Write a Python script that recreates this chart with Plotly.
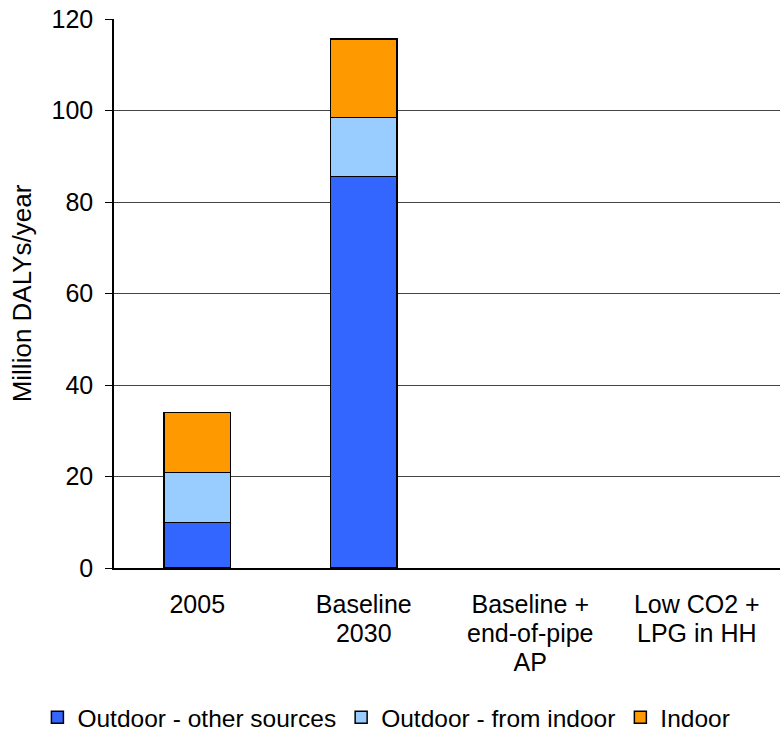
import plotly.graph_objects as go

# Health impact (million DALYs per year) by scenario
categories = ["2005", "Baseline<br>2030", "Baseline +<br>end-of-pipe<br>AP", "Low CO2 +<br>LPG in HH"]
outdoor_other = [10.0, 85.6, None, None]
outdoor_from_indoor = [10.9, 12.9, None, None]
indoor = [13.1, 17.1, None, None]

series = [
    ("Outdoor - other sources", outdoor_other, "#3366FF"),
    ("Outdoor - from indoor", outdoor_from_indoor, "#99CCFF"),
    ("Indoor", indoor, "#FF9900"),
]

FONT = "Liberation Sans, Arial, sans-serif"

# category labels drawn a little larger than their line spacing
tick_labels = [
    "<br>".join(f'<span style="font-size:25px">{part}</span>' for part in c.split("<br>"))
    for c in categories
]

fig = go.Figure()
for name, vals, color in series:
    fig.add_trace(go.Bar(
        x=categories, y=vals, name=name,
        marker=dict(color=color, line=dict(color="black", width=1.5)),
    ))

fig.update_layout(
    barmode="stack",
    bargap=0.6,
    width=780, height=741,
    margin=dict(l=114, r=0, t=19, b=173),
    plot_bgcolor="white", paper_bgcolor="white",
    font=dict(family=FONT, size=24, color="black"),
    showlegend=True,
    legend=dict(
        orientation="h",
        x=-0.115, xanchor="left", y=-0.272, yanchor="middle",
        font=dict(size=24.5), itemwidth=30, traceorder="normal",
        tracegroupgap=0,
    ),
    xaxis=dict(
        showline=True, linecolor="black", linewidth=1.5,
        tickmode="array", tickvals=categories, ticktext=tick_labels,
        tickfont=dict(size=22.5), ticks="", ticklabelstandoff=16,
    ),
    yaxis=dict(
        range=[0, 120], dtick=20, showgrid=True, gridcolor="#444", gridwidth=1,
        showline=True, linecolor="black", linewidth=1.5,
        ticks="outside", ticklen=7, tickcolor="black",
        tickfont=dict(size=25), ticklabelstandoff=7,
        title=dict(text="Million DALYs/year", font=dict(size=26), standoff=12),
        zeroline=False,
    ),
)

fig.write_html("out.html")
